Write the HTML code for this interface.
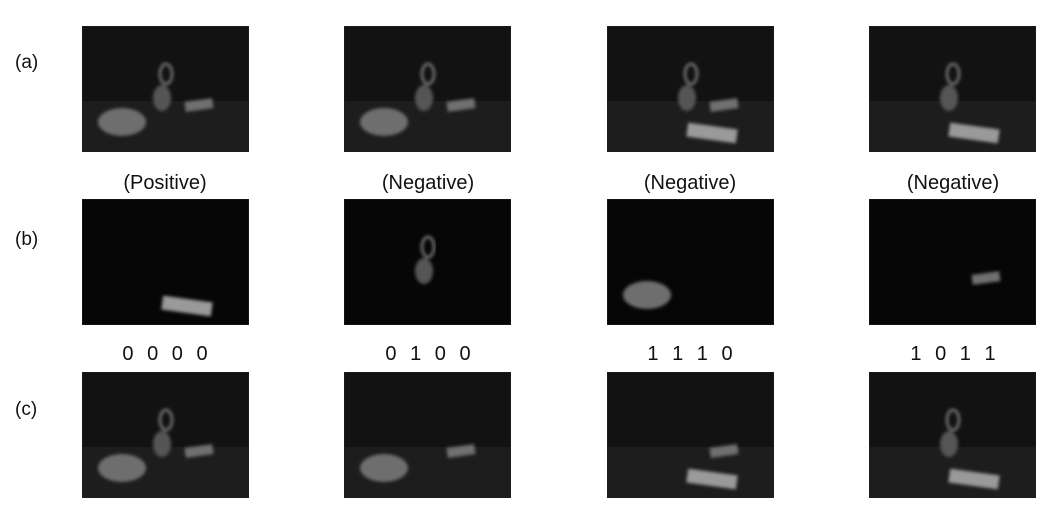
<!DOCTYPE html>
<html><head><meta charset="utf-8"><style>
body{margin:0;background:#fff;width:1059px;height:522px;position:relative;overflow:hidden;font-family:"Liberation Sans",sans-serif}
.lbl{position:absolute;font-size:19px;color:#111}
.cap{position:absolute;font-size:20px;color:#111;text-align:center;width:200px}
svg.img{position:absolute}
</style></head><body>
<div class="lbl" style="left:15px;top:52px">(a)</div>
<div class="lbl" style="left:15px;top:229px">(b)</div>
<div class="lbl" style="left:15px;top:399px">(c)</div>
<div class="cap" style="left:65px;top:172px">(Positive)</div>
<div class="cap" style="left:328px;top:172px">(Negative)</div>
<div class="cap" style="left:590px;top:172px">(Negative)</div>
<div class="cap" style="left:853px;top:172px">(Negative)</div>
<div class="cap" style="left:65px;top:343px;word-spacing:8px">0 0 0 0</div>
<div class="cap" style="left:328px;top:343px;word-spacing:8px">0 1 0 0</div>
<div class="cap" style="left:590px;top:343px;word-spacing:8px">1 1 1 0</div>
<div class="cap" style="left:853px;top:343px;word-spacing:8px">1 0 1 1</div>
<script>
const colsX=[82,344,607,869];
const rowsY=[26,199,372];
const content=[
 [["v","r","p"],["v","r","p"],["v","p","s"],["v","s"]],
 [["s"],["v"],["r"],["p"]],
 [["v","r","p"],["r","p"],["s","p"],["v","s"]]
];
const NS="http://www.w3.org/2000/svg";
function el(t,a,parent){const e=document.createElementNS(NS,t);for(const k in a)e.setAttribute(k,a[k]);parent.appendChild(e);return e;}
rowsY.forEach((y,ri)=>{colsX.forEach((x,ci)=>{
 const s=document.createElementNS(NS,"svg");
 s.setAttribute("class","img");
 s.setAttribute("width",167);s.setAttribute("height",126);
 s.style.left=x+"px";s.style.top=y+"px";
 
 
 const dark=ri===1;
 const d=el("defs",{},s);
 const f=el("filter",{id:"b"+ri+ci},d);el("feGaussianBlur",{stdDeviation:1.5},f);
 el("rect",{x:0,y:0,width:167,height:126,fill:dark?"#060606":"#121212",stroke:"#222"},s);
 if(!dark)el("rect",{x:0,y:75,width:167,height:51,fill:"#1d1d1d"},s);
 const g=el("g",{filter:"url(#b"+ri+ci+")"},s);
 content[ri][ci].forEach(o=>{
  if(o==="v"){el("ellipse",{cx:80,cy:72,rx:9,ry:13,fill:"#555"},g);el("ellipse",{cx:84,cy:48,rx:6,ry:10,fill:"none",stroke:"#6a6a6a","stroke-width":3},g);}
  if(o==="r")el("ellipse",{cx:40,cy:96,rx:24,ry:14,fill:"#6e6e6e"},g);
  if(o==="p")el("rect",{x:103,y:74,width:28,height:10,fill:"#707070",transform:"rotate(-8 117 79)"},g);
  if(o==="s")el("rect",{x:80,y:100,width:50,height:14,fill:"#9a9a9a",transform:"rotate(8 105 107)"},g);
 });
 document.body.appendChild(s);
});});
</script>
</body></html>
